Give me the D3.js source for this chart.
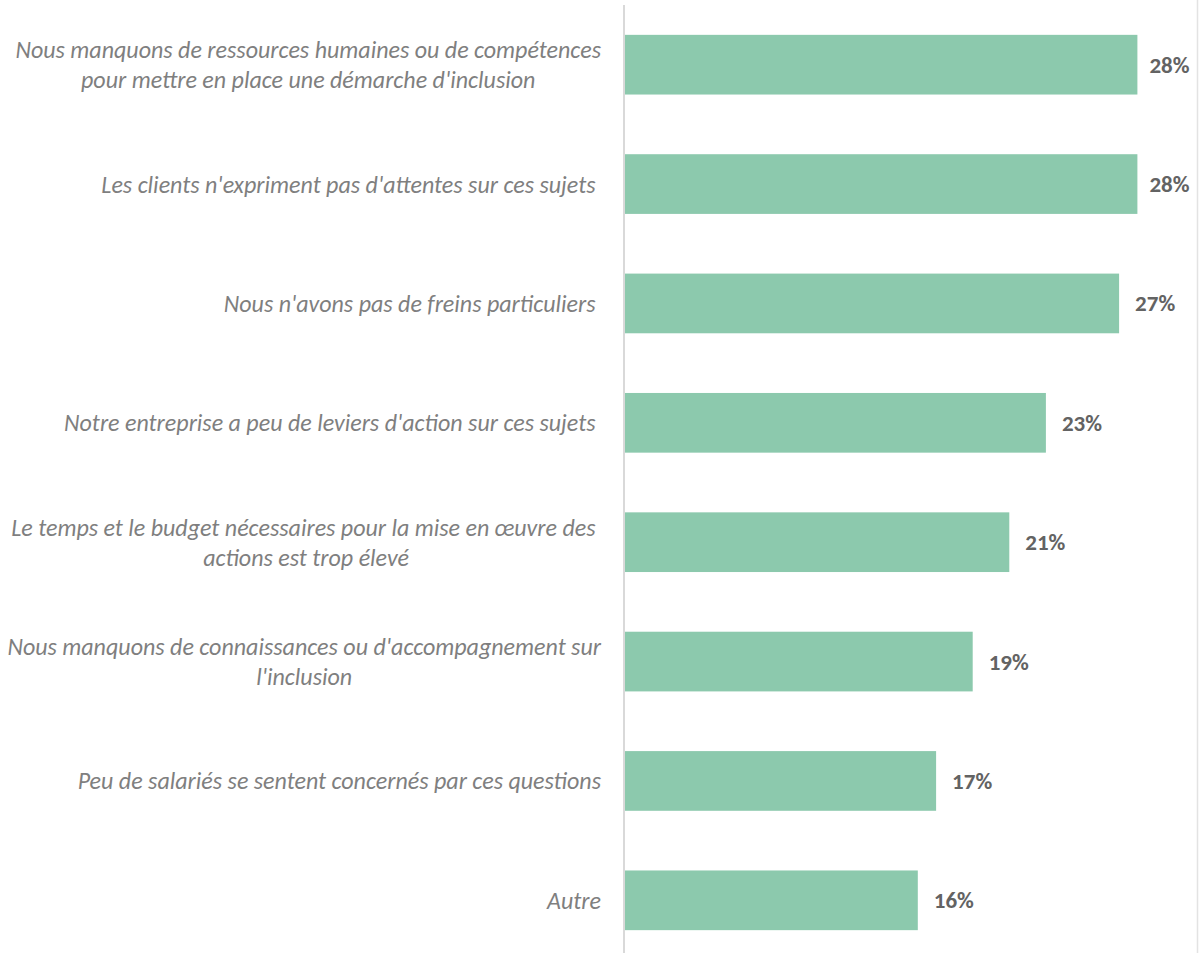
<!DOCTYPE html>
<html>
<head>
<meta charset="utf-8">
<script src="https://cdn.jsdelivr.net/npm/d3@7"></script>
<style>
  html, body { margin: 0; padding: 0; background: #fff; }
  svg { display: block; }
  .cat { font-family: Carlito, Lato, "Open Sans", sans-serif; font-style: italic; fill: #7f7f7f; white-space: pre; }
  .val { font-family: Carlito, Lato, "Open Sans", sans-serif; font-weight: bold; fill: #636363; }
</style>
</head>
<body>
<svg id="chart"></svg>
<script>
// Freins à la mise en place d'une démarche d'inclusion (part des répondants, %)
const categories = [
  "Nous manquons de ressources humaines ou de compétences\npour mettre en place une démarche d'inclusion",
  "Les clients n'expriment pas d'attentes sur ces sujets ",
  "Nous n'avons pas de freins particuliers ",
  "Notre entreprise a peu de leviers d'action sur ces sujets ",
  "Le temps et le budget nécessaires pour la mise en œuvre des \nactions est trop élevé",
  "Nous manquons de connaissances ou d'accompagnement sur\nl'inclusion",
  "Peu de salariés se sentent concernés par ces questions",
  "Autre"
];
const values = [28, 28, 27, 23, 21, 19, 17, 16];
const valueLabels = ["28%", "28%", "27%", "23%", "21%", "19%", "17%", "16%"];
const xDomain = [0, 30];

const W = 1204, H = 953;
const plot = { left: 625, right: 1174, top: 5, bottom: 960 };
const labelRight = 601;
const rightEdge = 1197.5;

const svg = d3.select("#chart").attr("width", W).attr("height", H);

const x = d3.scaleLinear().domain(xDomain).range([plot.left, plot.right]);
const y = d3.scaleBand().domain(categories).range([plot.top, plot.bottom])
  .paddingInner(0.5).paddingOuter(0.25);

// chart frame edge on the right
svg.append("line")
  .attr("x1", rightEdge).attr("x2", rightEdge).attr("y1", 0).attr("y2", H)
  .attr("stroke", "#e3e3e3").attr("stroke-width", 1.5);

// bars
svg.append("g").selectAll("rect")
  .data(categories)
  .join("rect")
  .attr("x", x(0))
  .attr("y", d => y(d))
  .attr("width", (d, i) => x(values[i]) - x(0))
  .attr("height", y.bandwidth())
  .attr("fill", "#8cc9ad");

// vertical category axis line
svg.append("line")
  .attr("x1", x(0) - 1).attr("x2", x(0) - 1)
  .attr("y1", plot.top).attr("y2", H)
  .attr("stroke", "#d9d9d9").attr("stroke-width", 2);

// category labels: lines centred on each other, block right-aligned
const lineGap = 30;
const catG = svg.append("g");
categories.forEach(cat => {
  const lines = cat.split("\n");
  const cy = y(cat) + y.bandwidth() / 2;
  const g = catG.append("g");
  const texts = lines.map((ln, j) => g.append("text")
    .attr("class", "cat")
    .attr("font-size", 24)
    .attr("text-anchor", "middle")
    .attr("dominant-baseline", "central")
    .attr("y", cy + (j - (lines.length - 1) / 2) * lineGap)
    .text(ln));
  const blockW = d3.max(texts, t => t.node().getComputedTextLength());
  texts.forEach(t => t.attr("x", labelRight - blockW / 2));
});

// value labels, kept inside the frame
svg.append("g").selectAll("text")
  .data(categories)
  .join("text")
  .attr("class", "val")
  .attr("font-size", 23)
  .attr("dominant-baseline", "central")
  .attr("y", d => y(d) + y.bandwidth() / 2)
  .text((d, i) => valueLabels[i])
  .attr("x", function(d, i) {
    const w = this.getComputedTextLength();
    return Math.min(x(values[i]) + 16, rightEdge - 8 - w);
  });
</script>
</body>
</html>
